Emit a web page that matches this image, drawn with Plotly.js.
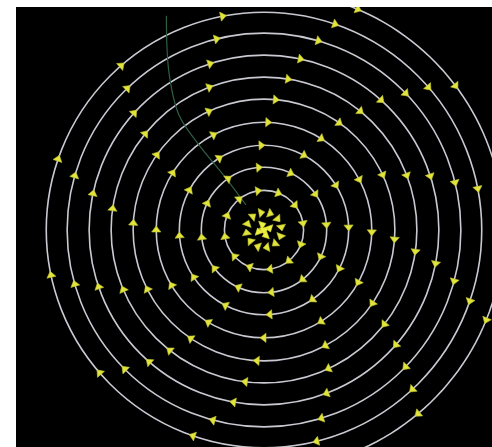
<!DOCTYPE html>
<html>
<head>
<meta charset="utf-8">
<script src="https://cdn.plot.ly/plotly-3.0.1.min.js"></script>
<style>
  html, body { margin: 0; padding: 0; background: #ffffff; width: 492px; height: 447px; overflow: hidden; }
  #frame { position: absolute; left: 16px; top: 7px; width: 476px; height: 440px; overflow: hidden; background: #000000; }
  #chart { position: absolute; left: -32px; top: -57px; width: 560px; height: 560px; }
</style>
</head>
<body>
<div id="frame"><div id="chart"></div></div>
<script>
// Radii of the circular streamlines (arbitrary units); ring 0 has no visible line
const ringR = [0.8, 1.8, 2.85, 3.85, 4.9, 5.95, 6.95, 7.95, 8.95, 9.9, 10.9];

// Outermost streamline is only a partial arc (degrees, counter-clockwise)
const outerArcStart = 288;
const outerArcEnd = 462;

// Angular positions (degrees) of the cones on each ring
const coneTheta = [
  [10, 40, 70, 100, 130, 160, 190, 220, 250, 280, 310, 340],
  [10, 39, 69, 99, 129, 159, 190, 222, 249, 279, 309, 339],
  [5, 35, 65, 95, 125, 155, 187, 218, 246, 277, 308, 335],
  [2, 32, 62, 92, 122, 152, 184, 214, 243, 274, 305, 333],
  [359, 28, 58, 88, 118, 148, 180, 211, 239, 270, 302, 331],
  [356, 25, 55, 85, 115, 145, 177, 207, 236, 267, 298, 326],
  [352, 21, 51, 81, 111, 141, 172, 203, 232, 263, 295, 322],
  [349, 18, 48, 78, 108, 138, 168, 199, 229, 260, 291, 319],
  [345, 14, 44, 74, 104, 134, 164, 196, 225, 255, 287, 316],
  [341, 11, 41, 71, 101, 131, 161, 192, 221, 251, 284, 313],
  [338, 7, 37, 67, 97, 310]
];

// Bright cluster of cones at the vortex core
const coreR = [0.25, 0.25, 0.25, 0.25, 0.0];
const coreTheta = [20, 110, 200, 290, 0];

// Faint greenish streamline crossing the upper-left
const greenR = [10.7, 8.4, 6.5, 4.9, 2.9, 1.4];
const greenTheta = [114.5, 121, 126.5, 127.4, 126.2, 125.8];

const coneR = [], coneT = [], coneAng = [];
coneTheta.forEach(function (list, k) {
  list.forEach(function (t) {
    coneR.push(ringR[k]);
    coneT.push(t);
    coneAng.push(180 - t); // tangent to the ring, clockwise flow
  });
});
const coreAng = coreTheta.map(function (t) { return 180 - t; });

// outer arc line sampled between its recorded ends
const arcT = [], arcR = [];
for (let t = outerArcStart; t <= outerArcEnd; t += 2) { arcT.push(t); arcR.push(ringR[10]); }

const traces = [
  {
    type: 'scatterpolar', mode: 'lines',
    r: arcR, theta: arcT,
    line: { color: '#c9c9d2', width: 1.6 },
    hoverinfo: 'skip', showlegend: false
  },
  {
    type: 'scatterpolar', mode: 'lines',
    r: greenR, theta: greenTheta,
    line: { color: '#2f5f45', width: 1.2, shape: 'spline' },
    hoverinfo: 'skip', showlegend: false
  },
  {
    type: 'scatterpolar', mode: 'markers',
    r: coneR, theta: coneT,
    marker: {
      symbol: 'triangle-up', size: 8, angle: coneAng,
      color: '#e2e33c', line: { color: '#bcc22c', width: 0.6 }
    },
    showlegend: false
  },
  {
    type: 'scatterpolar', mode: 'markers',
    r: coreR, theta: coreTheta,
    marker: {
      symbol: 'triangle-up', size: 8, angle: coreAng,
      color: '#eef040', line: { color: '#d6dc34', width: 0.6 }
    },
    showlegend: false
  }
];

const layout = {
  width: 560, height: 560,
  margin: { l: 0, r: 0, t: 0, b: 0 },
  paper_bgcolor: 'rgba(0,0,0,0)',
  showlegend: false,
  polar: {
    domain: { x: [0, 1], y: [0, 1] },
    bgcolor: 'rgba(0,0,0,0)',
    radialaxis: {
      range: [0, 12.73],
      tickmode: 'array', tickvals: ringR.slice(1, 10),
      showgrid: true, gridcolor: '#c9c9d2', gridwidth: 1.6,
      showline: false, showticklabels: false, ticks: ''
    },
    angularaxis: {
      showgrid: false, showline: false, showticklabels: false, ticks: ''
    }
  }
};

Plotly.newPlot('chart', traces, layout, { displayModeBar: false, staticPlot: true });
</script>
</body>
</html>
